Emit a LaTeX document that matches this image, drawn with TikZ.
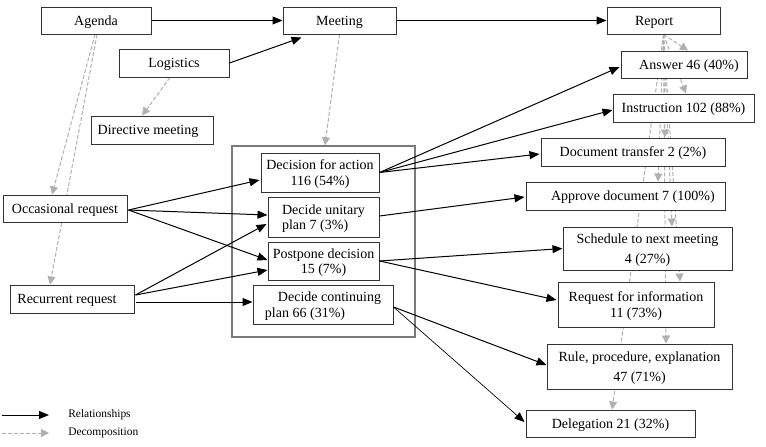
\documentclass[tikz,border=0pt]{standalone}
\usepackage{fontspec}
\setmainfont{Liberation Serif}
\usetikzlibrary{arrows.meta,calc}
\pgfdeclarelayer{bg}
\pgfsetlayers{bg,main}
\definecolor{dgray}{HTML}{B0B0B0}
\definecolor{bord}{HTML}{333333}
\definecolor{contc}{HTML}{7A7A7A}
\newcommand{\fsn}{\fontsize{10.5}{11.5}\selectfont}
\newcommand{\fsw}{\fontsize{10.5}{14.5}\selectfont}
\newcommand{\fsl}{\fontsize{8.6}{10}\selectfont}
\begin{document}
\begin{tikzpicture}[x=0.75pt,y=-0.75pt,
  bx/.style 2 args={draw=bord, fill=white, line width=0.75pt,
    minimum width=#1*0.75pt, minimum height=#2*0.75pt,
    inner sep=0pt, align=center, font=\fsn, text depth=0pt},
  rel/.style={draw=black, line width=0.75pt, -{Triangle[length=7.5pt,width=6pt]}},
  dec/.style={draw=dgray, line width=0.75pt, dash pattern=on 3pt off 1.5pt,
    -{Triangle[length=6pt,width=6pt,fill=dgray]}},
  contbox/.style={draw=contc, line width=1.1pt, minimum width=183*0.75pt,
    minimum height=191*0.75pt, inner sep=0pt},
  lg/.style={font=\fsl, anchor=west, inner sep=0pt}]
\useasboundingbox (0,0) rectangle (766,446);

% top row
\node[bx={110}{27}] (agenda) at (96,20.5) {Agenda};
\node[bx={113}{27}] (meeting) at (339.5,20.5) {Meeting};
\node[bx={113}{27}] (report) at (663.5,20.5) {Report\hspace*{14pt}};
\node[bx={110}{28}] (logistics) at (174,63) {Logistics};
\node[bx={122}{28}] (directive) at (152,130) {Directive meeting\hspace*{6pt}};

% left
\node[bx={124}{27}] (occ) at (65,208.5) {Occasional request};
\node[bx={124}{28}] (rec) at (72,299) {Recurrent request\hspace*{7.5pt}};

% container and decisions
\node[contbox] (cont) at (323.5,241.5) {};
\node[bx={118}{39}] (dfa) at (320,172.5) {Decision for action\\116 (54\%)};
\node[bx={111}{40}, align=left] (dup) at (323.5,217) {Decide unitary\\ plan 7 (3\%)};
\node[bx={111}{38}] (pd) at (323.5,261) {Postpone decision\\15 (7\%)};
\node[bx={140}{39}, align=left] (dcp) at (323,304.5) {\hspace*{9.75pt}Decide continuing\\plan 66 (31\%)};

% right column
\node[bx={126}{27}] (ans) at (684,64.5) {\hspace*{7.5pt}Answer 46 (40\%)};
\node[bx={141}{28}] (ins) at (683.5,108) {Instruction 102 (88\%)};
\node[bx={184}{28}] (dt) at (633,152) {Document transfer 2 (2\%)};
\node[bx={199}{28}] (ap) at (625.5,196) {\hspace*{11pt}Approve document 7 (100\%)};
\node[bx={169}{43}, font=\fsw] (sch) at (647.5,248.5) {Schedule to next meeting\\4 (27\%)};
\node[bx={156}{45}] (rfi) at (636,304.5) {Request for information\\11 (73\%)};
\node[bx={185}{45}, font=\fsw] (rule) at (639.5,366.5) {Rule, procedure, explanation\\47 (71\%)};
\node[bx={169}{27}] (del) at (610.5,423.5) {Delegation 21 (32\%)};

% decomposition (behind boxes)
\begin{pgfonlayer}{bg}
\draw[dec] ($(agenda.south)+(-1,0)$) -- ($(occ.north)+(-13,0)$);
\draw[dec] ($(agenda.south)+(1,0)$) -- ($(rec.north)+(-22,0)$);
\draw[dec] ($(logistics.south)+(-4,0)$) -- ($(directive.north)+(-10,0)$);
\draw[dec] (meeting.south) -- ($(cont.north)+(1.5,0)$);
\draw[dec] (report.south) -- ($(ans.north)+(4,0)$);
\draw[dec] (report.south) -- ($(ins.north)+(2.5,0)$);
\draw[dec] (report.south) -- ($(dt.north)+(32,0)$);
\draw[dec] (report.south) -- ($(ap.north)+(32.5,0)$);
\draw[dec] (report.south) -- ($(sch.north)+(24.5,0)$);
\draw[dec] (report.south) -- ($(rfi.north)+(44,0)$);
\draw[dec] (report.south) -- ($(rule.north)+(26.5,0)$);
\draw[dec] (report.south) -- ($(del.north)+(1.5,0)$);
\end{pgfonlayer}

% relationships
\draw[rel] (agenda.east) -- (meeting.west);
\draw[rel] (meeting.east) -- (report.west);
\draw[rel] (logistics.east) -- ($(meeting.south west)+(19,3)$);
\draw[rel] ($(occ.east)+(1,1.5)$) -- ($(dfa.west)+(-1,7.5)$);
\draw[rel] ($(occ.east)+(1,1.5)$) -- ($(dup.west)+(0,-2)$);
\draw[rel] ($(occ.east)+(1,1.5)$) -- ($(pd.west)+(0,-1)$);
\draw[rel] ($(rec.east)+(1,-4)$) -- ($(dup.west)+(-1,7)$);
\draw[rel] ($(rec.east)+(1,-4)$) -- ($(pd.west)+(0,9)$);
\draw[rel] ($(rec.east)+(1,3)$) -- ($(dcp.west)+(0,-2.5)$);
\draw[rel] (dfa.east) -- ($(ans.west)+(-1,2.5)$);
\draw[rel] (dfa.east) -- ($(ins.west)+(0,2)$);
\draw[rel] (dfa.east) -- ($(dt.west)+(-1,2)$);
\draw[rel] ($(dup.east)+(0,-1)$) -- ($(ap.west)+(-1,1)$);
\draw[rel] (pd.east) -- (sch.west);
\draw[rel] (pd.east) -- ($(rfi.west)+(-1,-4.5)$);
\draw[rel] ($(dcp.east)+(0,2.5)$) -- ($(rule.west)+(0,-1.5)$);
\draw[rel, line width=0.5pt] ($(dcp.east)+(0,2.5)$) -- ($(del.west)+(-1,-1.5)$);

% legend
\coordinate (l1a) at (2,415);
\coordinate (l1b) at (49,415);
\coordinate (l2a) at (2,433);
\coordinate (l2b) at (49,433);
\draw[rel] (l1a) -- (l1b);
\draw[dec] (l2a) -- (l2b);
\node[lg] (l1t) at (68,415) {Relationships};
\node[lg] (l2t) at (68,433) {Decomposition};
\end{tikzpicture}
\end{document}
